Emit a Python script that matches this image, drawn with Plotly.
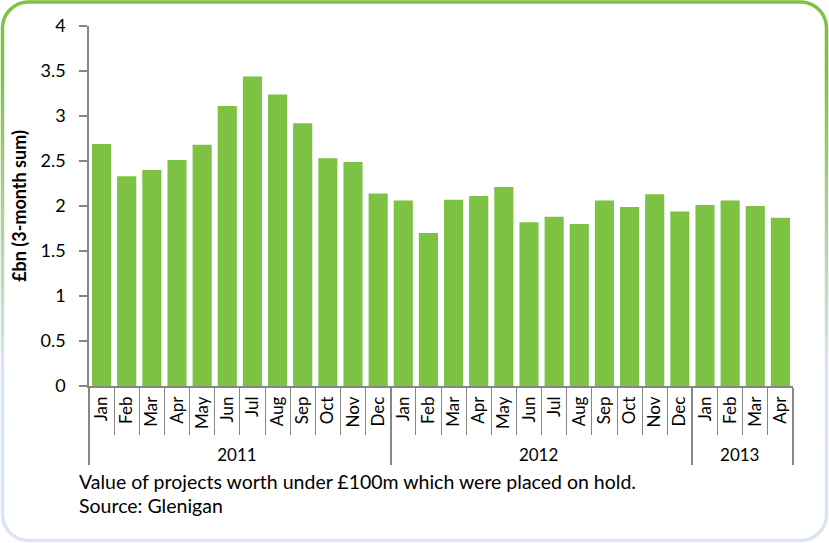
import math
import plotly.graph_objects as go

years = ["2011"] * 12 + ["2012"] * 12 + ["2013"] * 4
months = ["Jan", "Feb", "Mar", "Apr", "May", "Jun", "Jul", "Aug", "Sep", "Oct", "Nov", "Dec",
          "Jan", "Feb", "Mar", "Apr", "May", "Jun", "Jul", "Aug", "Sep", "Oct", "Nov", "Dec",
          "Jan", "Feb", "Mar", "Apr"]
values = [2.69, 2.33, 2.40, 2.51, 2.68, 3.11, 3.44, 3.24, 2.92, 2.53, 2.49, 2.14,
          2.06, 1.70, 2.07, 2.11, 2.21, 1.82, 1.88, 1.80, 2.06, 1.99, 2.13, 1.94,
          2.01, 2.06, 2.00, 1.87]
y_title = "£bn (3-month sum)"
caption = ["Value of projects worth under £100m which were placed on hold.", "Source: Glenigan"]

FONT = "Lato"
GREEN = "#7DC242"
AXIS = "#868686"

fig = go.Figure(go.Bar(x=[years, months], y=values, marker=dict(color=GREEN, line=dict(width=0))))

W, H = 829, 543
ml, mr, mt, mb = 89, 36, 26, 157

fig.update_layout(
    width=W, height=H,
    margin=dict(l=ml, r=mr, t=mt, b=mb),
    paper_bgcolor="white", plot_bgcolor="white",
    bargap=0.24,
    showlegend=False,
    font=dict(family=FONT, color="black"),
)
fig.update_yaxes(
    range=[0, 4], dtick=0.5, showgrid=False, zeroline=False,
    showline=True, linecolor=AXIS, linewidth=1.5,
    ticks="outside", ticklen=8, tickcolor=AXIS, tickwidth=1.5,
    tickfont=dict(size=18, family=FONT), ticklabelstandoff=10,
    title=dict(text="<b>" + y_title + "</b>", font=dict(size=18, family=FONT), standoff=9),
)
fig.update_xaxes(
    type="multicategory",
    showline=True, linecolor=AXIS, linewidth=1.5,
    ticks="outside", ticklen=47, tickcolor=AXIS, tickwidth=1,
    tickson="boundaries",
    showdividers=True, dividercolor=AXIS, dividerwidth=1.5,
    tickangle=-90, ticklabelstandoff=2,
    tickfont=dict(size=17, family=FONT),
    showgrid=False,
)

# caption
for i, line in enumerate(caption):
    fig.add_annotation(text=line, xref="paper", yref="paper", x=-0.017, y=0, xanchor="left",
                       yanchor="top", yshift=-82 - i * 24, showarrow=False,
                       font=dict(size=19.5, family=FONT, color="black"))

# rounded gradient border (style only)
def px2paper(x, y):
    return (x - ml) / (W - ml - mr), (H - mb - y) / (H - mt - mb)

r = 26
x0, y0, x1, y1 = 2.5, 2, 826.5, 540.5
top_col = (125, 194, 66)
bot_col = (219, 228, 242)

def mix(t):
    c = [round(a + (b - a) * t) for a, b in zip(top_col, bot_col)]
    return "rgb(%d,%d,%d)" % tuple(c)

def path(points):
    pts = [px2paper(*p) for p in points]
    return "M " + " L ".join("%.5f,%.5f" % p for p in pts)

def arc(cx, cy, a0, a1, n=12):
    return [(cx + r * math.cos(math.radians(a0 + (a1 - a0) * k / n)),
             cy + r * math.sin(math.radians(a0 + (a1 - a0) * k / n))) for k in range(n + 1)]

shapes = []
top_pts = arc(x0 + r, y0 + r, 180, 270) + arc(x1 - r, y0 + r, 270, 360)
shapes.append(dict(type="path", path=path(top_pts), xref="paper", yref="paper",
                   line=dict(color=mix(0), width=3.5), layer="above"))
n = 30
ys = [y0 + r + (y1 - y0 - 2 * r) * k / n for k in range(n + 1)]
for k in range(n):
    t = min(1, max(0, (ys[k] - 60) / 300))
    for xs in (x0, x1):
        shapes.append(dict(type="path", path=path([(xs, ys[k]), (xs, ys[k + 1] + 0.5)]),
                           xref="paper", yref="paper", line=dict(color=mix(t), width=3.5), layer="above"))
bot_pts = arc(x0 + r, y1 - r, 180, 90) + arc(x1 - r, y1 - r, 90, 0)
shapes.append(dict(type="path", path=path(bot_pts), xref="paper", yref="paper",
                   line=dict(color=mix(1), width=3.5), layer="above"))
fig.update_layout(shapes=shapes)

fig.write_html("out.html", config={"displayModeBar": False},
               post_script="document.body.style.margin='0';document.body.style.overflow='hidden';")
